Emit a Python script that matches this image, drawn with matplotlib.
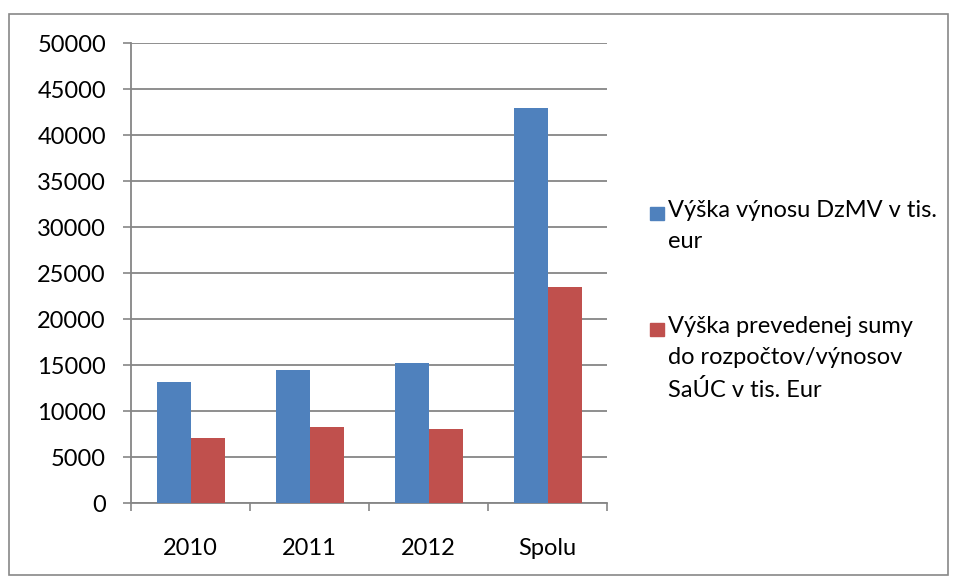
import matplotlib
matplotlib.use("Agg")
import matplotlib.pyplot as plt
import numpy as np
from matplotlib.patches import Rectangle

categories = ["2010", "2011", "2012", "Spolu"]
vynos = [13120, 14500, 15220, 42950]
prevedene = [7060, 8300, 8040, 23480]
labels = ["Výška výnosu DzMV v tis.\neur",
          "Výška prevedenej sumy\ndo rozpočtov/výnosov\nSaÚC v tis. Eur"]
colors = ["#4F81BD", "#C0504D"]
yticks = list(range(0, 50001, 5000))

plt.rcParams["font.family"] = ["Lato", "DejaVu Sans"]
fs = 17

W, H = 956, 581
fig = plt.figure(figsize=(W / 100, H / 100), dpi=100)
ax = fig.add_axes([131 / W, 1 - 503 / H, (607 - 131) / W, (503 - 43) / H])

x = np.arange(len(categories))
w = 34 / 119
ax.bar(x - w / 2, vynos, w, color=colors[0], zorder=3)
ax.bar(x + w / 2, prevedene, w, color=colors[1], zorder=3)

ax.set_xlim(-0.5, len(categories) - 0.5)
ax.set_ylim(0, 50000)
ax.set_yticks(yticks)
ax.set_yticklabels([str(v) for v in yticks], fontsize=fs)
ax.set_xticks(x)
ax.set_xticklabels(categories, fontsize=fs)
ax.set_xticks(np.arange(len(categories) + 1) - 0.5, minor=True)
ax.tick_params(axis="x", which="major", length=0, pad=25)
ax.tick_params(axis="x", which="minor", length=6, width=1.2, color="#868686", direction="out")
ax.tick_params(axis="y", length=6, width=1.2, color="#868686", direction="out", pad=12)

ax.grid(axis="y", color="#868686", linewidth=1.3, zorder=0)
for s in ["top", "right"]:
    ax.spines[s].set_visible(False)
for s in ["left", "bottom"]:
    ax.spines[s].set_color("#868686")
    ax.spines[s].set_linewidth(1.3)

# outer chart border
fig.patches.append(Rectangle((9 / W, 1 - 575 / H), (948 - 9) / W, (575 - 14) / H,
                             transform=fig.transFigure, fill=False,
                             edgecolor="#888888", linewidth=1.2))

# legend
leg_y = [207, 323]
for lab, col, yy in zip(labels, colors, leg_y):
    fig.patches.append(Rectangle((650 / W, 1 - (yy + 13) / H), 14 / W, 13 / H,
                                 transform=fig.transFigure, color=col))
    fig.text(668 / W, 1 - (yy - 7) / H, lab, fontsize=fs, va="top", ha="left",
             linespacing=1.6)

fig.savefig("out.png", dpi=100)
